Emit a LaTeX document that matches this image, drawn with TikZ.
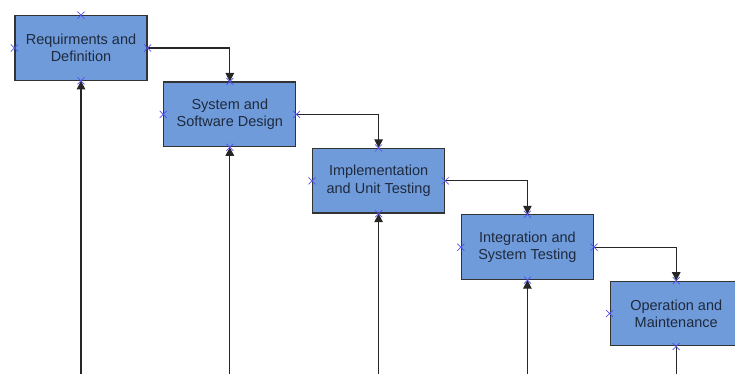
\documentclass[tikz,border=0pt]{standalone}
\usepackage{fontspec}
\setmainfont{Liberation Sans}
\usetikzlibrary{positioning,arrows.meta}
\definecolor{phasefill}{RGB}{112,155,218}
\definecolor{phasetext}{RGB}{30,42,62}
\definecolor{markblue}{RGB}{80,80,240}

\begin{document}
\begin{tikzpicture}[x=1pt,y=1pt,
  phase/.style={draw=black!80, line width=1.2pt, fill=phasefill, text=phasetext,
    minimum width=132pt, minimum height=64.6pt, inner sep=0pt, align=center,
    font=\fontsize{14.5}{17.5}\selectfont},
  link/.style={draw=black!85, line width=1.1pt},
  flow/.style={link, -{Triangle[length=8.5pt,width=8.5pt]}}]
  \clip (0,0) rectangle (735,374);
  % the five phases, stepping down to the right
  \node[phase] (req) at (81,326) {Requirments and\\Definition};
  \node[phase, below right=0.6pt and 15.6pt of req] (des) {System and\\Software Design};
  \node[phase, below right=0.6pt and 15.6pt of des] (imp) {Implementation\\and Unit Testing};
  \node[phase, below right=0.6pt and 15.6pt of imp] (int) {Integration and\\System Testing};
  \node[phase, below right=0.6pt and 15.6pt of int] (ops) {Operation and\\Maintenance};
  % lines coming up from below
  \foreach \n in {req,des,imp,int} {
    \coordinate (\n-in) at (\n.south |- 0,0);
    \draw[flow] (\n-in) -- (\n.south);
  }
  \coordinate (ops-out) at (ops.south |- 0,0);
  \draw[link] (ops.south) -- (ops-out);
  % steps
  \draw[flow] (req.east) -| (des.north);
  \draw[flow] (des.east) -| (imp.north);
  \draw[flow] (imp.east) -| (int.north);
  \draw[flow] (int.east) -| (ops.north);
  % connection marks
  \foreach \n in {req,des,imp,int,ops}
    \foreach \a in {north,south,east,west}
      \draw[markblue, line width=0.7pt] (\n.\a) ++(-3.5,-3.5) -- ++(7,7) ++(0,-7) -- ++(-7,7);
\end{tikzpicture}
\end{document}
